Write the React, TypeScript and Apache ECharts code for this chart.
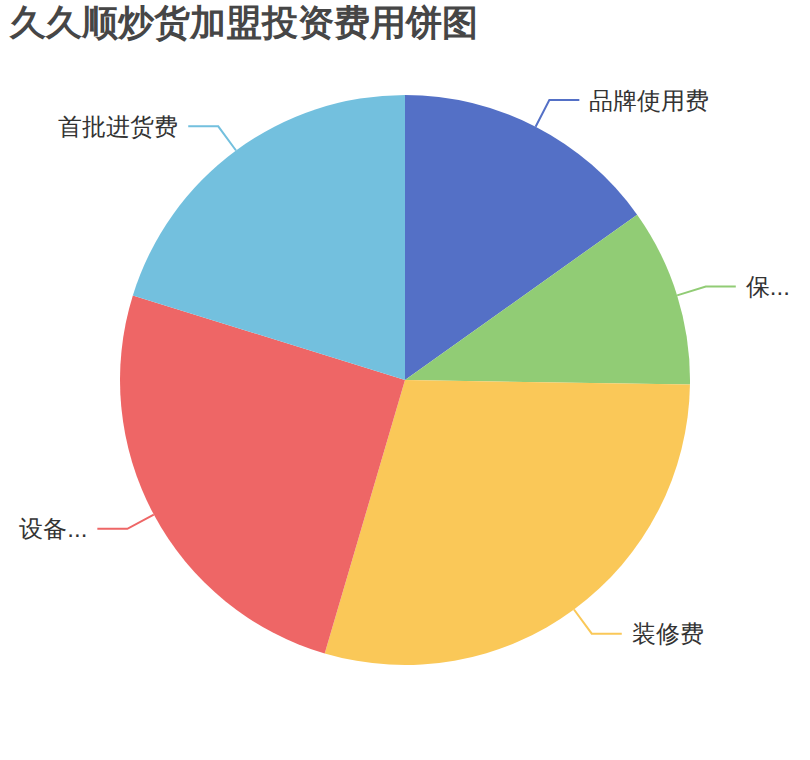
import React, { useEffect, useRef } from "react";
import * as echarts from "echarts";

const titleText = "久久顺炒货加盟投资费用饼图";
const categories = ["品牌使用费", "保证金", "装修费", "设备费", "首批进货费"];
const values = [15, 10, 29, 25, 20];
const palette = ["#5470c6", "#91cc75", "#fac858", "#ee6666", "#73c0de"];

export default function App() {
  const ref = useRef<HTMLDivElement>(null);
  useEffect(() => {
    document.body.style.margin = "0";
    const chart = echarts.init(ref.current!, undefined, { renderer: "svg" });
    chart.setOption({
      animation: false,
      color: palette,
      title: {
        text: titleText,
        left: 0,
        top: 0,
        padding: [4, 10],
        textStyle: { fontSize: 36, fontWeight: "bold", color: "#464646" },
      },
      series: [
        {
          type: "pie",
          center: ["50%", "50%"],
          radius: "75%",
          startAngle: 90,
          data: categories.map((name, i) => ({ name, value: values[i] })),
          label: { fontSize: 24, color: "#333", distanceToLabelLine: 10, bleedMargin: 16 },
          labelLine: { length: 30, length2: 30, lineStyle: { width: 2 } },
        },
      ],
    });
    return () => chart.dispose();
  }, []);
  return <div ref={ref} style={{ width: 810, height: 760 }} />;
}
